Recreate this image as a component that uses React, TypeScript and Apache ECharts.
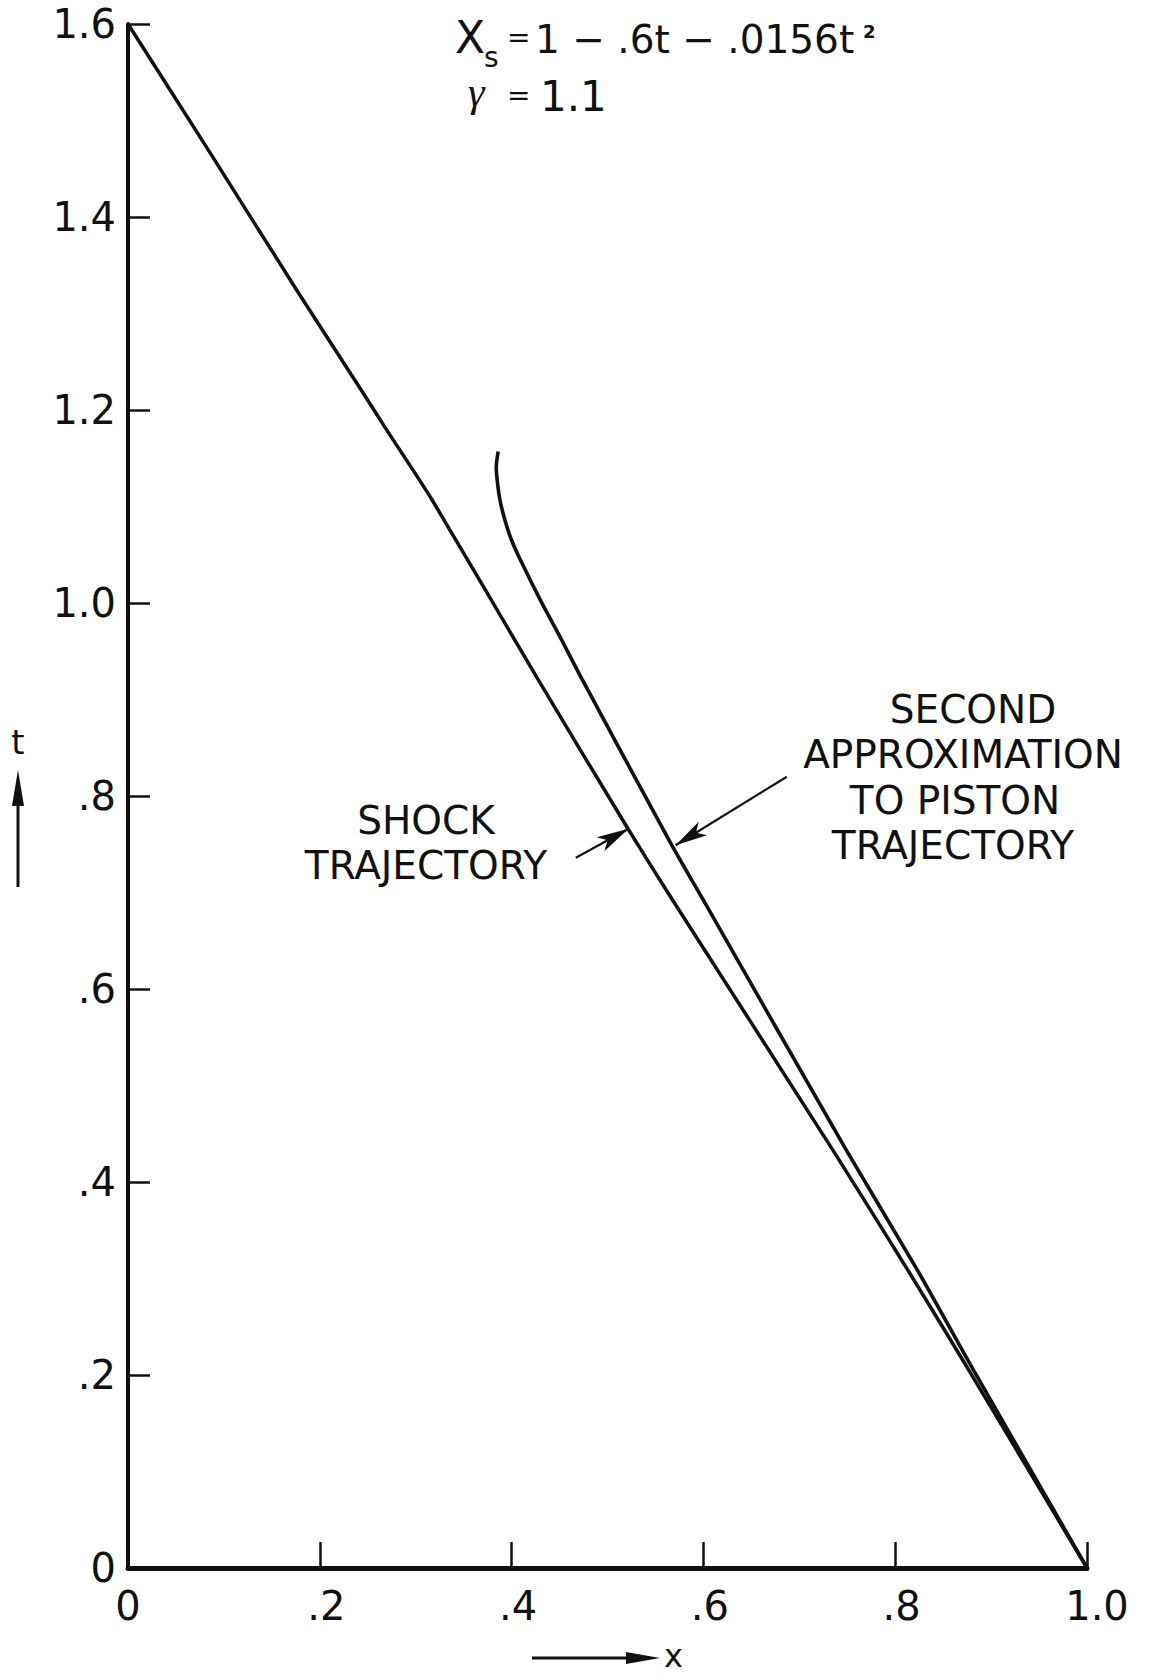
import React, { useEffect, useRef } from "react";
import * as echarts from "echarts";

// Shock trajectory: x positions and times t
const shockX = [0, 0.084, 0.178, 0.243, 0.268, 0.317, 0.428, 0.522, 0.568, 0.735, 0.813, 0.875, 1.0];
const shockT = [1.6, 1.469, 1.321, 1.221, 1.182, 1.107, 0.92, 0.765, 0.692, 0.433, 0.309, 0.208, 0];

// Second approximation to piston trajectory
const pistonX = [0.386, 0.384, 0.385, 0.388, 0.393, 0.4, 0.409, 0.43, 0.452, 0.474, 0.566, 0.6, 0.749, 0.823, 0.88, 1.0];
const pistonT = [1.157, 1.141, 1.127, 1.106, 1.086, 1.065, 1.045, 1.003, 0.962, 0.92, 0.751, 0.692, 0.433, 0.309, 0.208, 0];

// Leader arrows (data coordinates): [tailX, tailT, tipX, tipT]
const shockArrow = [0.467, 0.736, 0.522, 0.766];
const pistonArrow = [0.687, 0.82, 0.571, 0.749];

const xTickLabels = ["0", ".2", ".4", ".6", ".8", "1.0"];
const yTickLabels = ["0", ".2", ".4", ".6", ".8", "1.0", "1.2", "1.4", "1.6"];

const shockLabel = ["SHOCK", "TRAJECTORY"];
const pistonLabel = ["SECOND", "APPROXIMATION", "TO PISTON", "TRAJECTORY"];

const FONT = "DejaVu Sans";
const INK = "#111";

export default function App() {
  const ref = useRef<HTMLDivElement>(null);
  useEffect(() => {
    if (!ref.current) return;
    const chart = echarts.init(ref.current, null, { renderer: "svg" });
    const shockData = shockX.map((x, i) => [x, shockT[i]]);
    const pistonData = pistonX.map((x, i) => [x, pistonT[i]]);
    const arrowLine = (a: number[]) => ({
      silent: true,
      symbol: ["none", "arrow"],
      symbolSize: [12, 32],
      label: { show: false },
      lineStyle: { type: "solid", color: INK, width: 2.2 },
      emphasis: { disabled: true },
      data: [[{ coord: [a[0], a[1]] }, { coord: [a[2], a[3]] }]],
    });
    const txt = (text: string, x: number, y: number, size: number, extra: any = {}) => ({
      type: "text",
      x,
      y,
      style: {
        text,
        fontFamily: FONT,
        fontSize: size,
        fill: INK,
        align: "left",
        verticalAlign: "middle",
        ...extra,
      },
    });
    const shockCenters = [426, 426];
    const shockYs = [820, 865.5];
    const pistonCenters = [973, 963, 955, 953];
    const pistonYs = [709, 754.5, 800, 845.5];
    chart.setOption({
      animation: false,
      backgroundColor: "#fff",
      grid: { left: 128, right: 64, top: 24, bottom: 110, containLabel: false },
      xAxis: {
        type: "value",
        min: 0,
        max: 1,
        interval: 0.2,
        axisLine: { show: true, lineStyle: { color: INK, width: 5 } },
        axisTick: { show: true, inside: true, length: 26, lineStyle: { color: INK, width: 2.5 } },
        splitLine: { show: false },
        axisLabel: {
          margin: 18,
          color: INK,
          fontFamily: FONT,
          fontSize: 40,
          formatter: (v: number) => {
            const s = xTickLabels[Math.round(v * 5)];
            if (s === "0") return "{n|0}";
            if (s === "1.0") return "{w|1.0}";
            return "{d|" + s + "}";
          },
          rich: {
            n: { fontFamily: FONT, fontSize: 40, color: INK },
            w: { fontFamily: FONT, fontSize: 40, color: INK, padding: [0, 0, 0, 20] },
            d: { fontFamily: FONT, fontSize: 40, color: INK, padding: [0, 0, 0, 13] },
          },
        },
      },
      yAxis: {
        type: "value",
        min: 0,
        max: 1.6,
        interval: 0.2,
        axisLine: { show: true, lineStyle: { color: INK, width: 4 } },
        axisTick: { show: true, inside: true, length: 22, lineStyle: { color: INK, width: 2.5 } },
        splitLine: { show: false },
        axisLabel: {
          margin: 12,
          color: INK,
          fontFamily: FONT,
          fontSize: 40,
          formatter: (v: number) => yTickLabels[Math.round(v * 5)],
        },
      },
      series: [
        {
          name: "Shock trajectory",
          type: "line",
          data: shockData,
          showSymbol: false,
          smooth: 0.2,
          lineStyle: { color: INK, width: 3.5 },
          emphasis: { disabled: true },
          markLine: arrowLine(shockArrow),
        },
        {
          name: "Second approximation to piston trajectory",
          type: "line",
          data: pistonData,
          showSymbol: false,
          smooth: 0.25,
          lineStyle: { color: INK, width: 3.6 },
          emphasis: { disabled: true },
          markLine: arrowLine(pistonArrow),
        },
      ],
      graphic: [
        // formula
        txt("X", 455, 37, 44),
        txt("s", 484, 57, 28),
        txt("=", 507, 37, 28),
        txt("1 − .6t − .0156t", 535, 39, 39),
        txt("2", 863, 31, 18, { fontWeight: "bold" }),
        txt("γ", 468, 92, 42, { fontFamily: "Liberation Serif", fontStyle: "italic" }),
        txt("=", 507, 95, 28),
        txt("1.1", 540, 96, 42),
        // curve labels, one text per line
        ...shockLabel.map((s, i) => txt(s, shockCenters[i], shockYs[i], 39, { align: "center", lineHeight: 39 })),
        ...pistonLabel.map((s, i) => txt(s, pistonCenters[i], pistonYs[i], 39, { align: "center", lineHeight: 39 })),
        // t axis name with arrow
        txt("t", 18, 742, 34, { align: "center" }),
        { type: "line", shape: { x1: 18, y1: 887, x2: 18, y2: 800 }, style: { stroke: INK, lineWidth: 3 } },
        { type: "polygon", shape: { points: [[18, 770], [12, 806], [24, 806]] }, style: { fill: INK } },
        // x axis name with arrow
        { type: "line", shape: { x1: 532, y1: 1658, x2: 632, y2: 1658 }, style: { stroke: INK, lineWidth: 3 } },
        { type: "polygon", shape: { points: [[660, 1658], [626, 1652], [626, 1664]] }, style: { fill: INK } },
        txt("x", 664, 1656, 32),
      ],
    });
    return () => chart.dispose();
  }, []);
  return (
    <div
      ref={ref}
      style={{ position: "absolute", left: 0, top: 0, width: 1151, height: 1678, background: "#fff" }}
    />
  );
}
